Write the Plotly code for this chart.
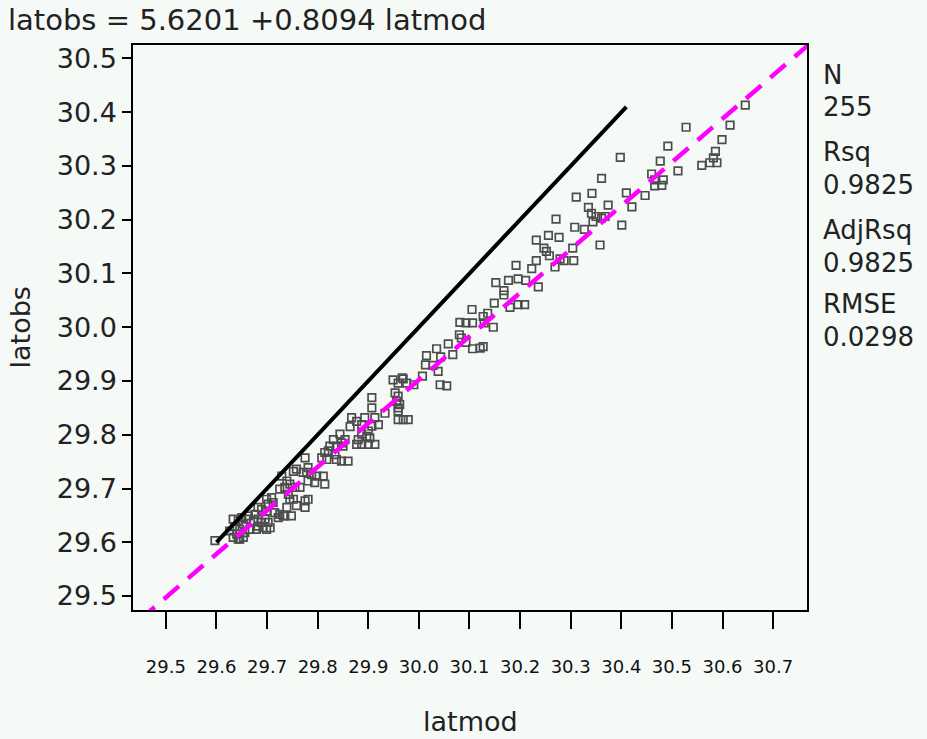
import plotly.graph_objects as go

# ---- data ----
latmod = [
    30.645, 30.615, 30.528, 30.599, 30.492, 30.586, 30.398, 30.477, 30.559, 30.575,
    30.589, 30.582, 30.512, 30.460, 30.466, 30.480, 30.466, 30.483, 30.361, 30.410,
    30.447, 30.374, 30.421, 30.342, 30.311, 30.335, 30.350, 30.361, 30.368, 30.344,
    30.341, 30.401, 30.271, 30.308, 30.327, 30.256, 30.277, 30.232, 30.358, 30.247,
    30.252, 30.258, 30.304, 30.279, 30.287, 30.306, 30.232, 30.269, 30.192, 30.223,
    30.152, 30.177, 30.196, 30.211, 30.236, 30.168, 30.168, 30.149, 30.196, 30.209,
    30.180, 30.105, 30.136, 30.127, 30.081, 30.093, 30.106, 30.129, 30.147, 30.080,
    30.084, 30.093, 30.058, 30.106, 30.121, 30.127, 30.035, 30.015, 30.043, 30.013,
    30.028, 30.067, 30.007, 29.967, 29.949, 30.038, 29.959, 29.969, 29.976, 29.990,
    29.953, 29.959, 29.956, 29.962, 29.959, 29.959, 29.907, 29.907, 29.933, 29.969,
    29.979, 29.959, 29.867, 29.877, 29.893, 29.913, 29.864, 29.887, 29.907, 29.920,
    29.887, 29.897, 29.903, 29.880, 29.887, 29.900, 29.913, 29.844, 29.831, 29.854,
    29.824, 29.837, 29.850, 29.821, 29.834, 29.775, 29.808, 29.900, 29.847, 29.814,
    29.837, 29.847, 29.860, 29.818, 29.781, 29.778, 29.758, 29.771, 29.788, 29.798,
    29.811, 29.814, 29.794, 29.781, 29.752, 29.729, 29.739, 29.745, 29.735, 29.725,
    29.755, 29.765, 29.742, 29.745, 29.752, 29.739, 29.758, 29.775, 29.775, 29.781,
    29.725, 29.735, 29.748, 29.709, 29.699, 29.712, 29.702, 29.597, 29.633, 29.643,
    29.636, 29.653, 29.646, 29.656, 29.653, 29.643, 29.633, 29.640, 29.626, 29.663,
    29.676, 29.673, 29.682, 29.689, 29.682, 29.692, 29.699, 29.706, 29.702, 29.696,
    29.682, 29.689, 29.699, 29.715, 29.722, 29.732, 29.650, 29.659, 29.666, 29.679,
    29.646, 30.042, 30.055, 29.877,
]
latobs = [
    30.413, 30.376, 30.372, 30.349, 30.337, 30.327, 30.316, 30.309, 30.301, 30.306,
    30.306, 30.315, 30.291, 30.285, 30.274, 30.264, 30.263, 30.274, 30.277, 30.250,
    30.245, 30.227, 30.224, 30.249, 30.242, 30.223, 30.206, 30.203, 30.206, 30.196,
    30.212, 30.190, 30.201, 30.186, 30.182, 30.171, 30.167, 30.162, 30.153, 30.147,
    30.141, 30.133, 30.147, 30.127, 30.124, 30.124, 30.124, 30.112, 30.115, 30.109,
    30.083, 30.087, 30.090, 30.087, 30.075, 30.068, 30.060, 30.045, 30.042, 30.042,
    30.037, 30.033, 30.026, 30.020, 30.009, 30.008, 30.008, 30.008, 30.000, 29.986,
    29.980, 29.972, 29.969, 29.960, 29.961, 29.964, 29.960, 29.947, 29.945, 29.930,
    29.929, 29.949, 29.909, 29.906, 29.902, 29.918, 29.896, 29.904, 29.896, 29.893,
    29.878, 29.872, 29.862, 29.856, 29.850, 29.844, 29.869, 29.850, 29.840, 29.828,
    29.828, 29.828, 29.832, 29.825, 29.832, 29.832, 29.815, 29.819, 29.816, 29.819,
    29.801, 29.797, 29.794, 29.791, 29.782, 29.782, 29.782, 29.801, 29.791, 29.791,
    29.779, 29.779, 29.779, 29.770, 29.763, 29.757, 29.757, 29.807, 29.785, 29.767,
    29.754, 29.751, 29.751, 29.754, 29.739, 29.730, 29.736, 29.730, 29.726, 29.723,
    29.723, 29.708, 29.711, 29.714, 29.732, 29.723, 29.714, 29.708, 29.702, 29.699,
    29.702, 29.702, 29.689, 29.680, 29.680, 29.665, 29.668, 29.665, 29.677, 29.680,
    29.652, 29.649, 29.649, 29.683, 29.680, 29.674, 29.671, 29.603, 29.643, 29.640,
    29.629, 29.634, 29.624, 29.618, 29.609, 29.606, 29.609, 29.615, 29.621, 29.649,
    29.652, 29.640, 29.643, 29.637, 29.630, 29.627, 29.624, 29.627, 29.637, 29.643,
    29.665, 29.661, 29.658, 29.655, 29.646, 29.649, 29.646, 29.643, 29.624, 29.624,
    29.606, 29.893, 29.891, 29.782,
]

# reference (identity) line endpoints
identity_x = [29.60, 30.41]
identity_y = [29.60, 30.41]

# regression fit, as printed in the title
intercept = 5.6201
slope = 0.8094
fit_x = [29.40, 30.80]
fit_y = [intercept + slope * v for v in fit_x]

# statistics shown at the right
stat_labels = ["N", "Rsq", "AdjRsq", "RMSE"]
stat_values = ["255", "0.9825", "0.9825", "0.0298"]

x_ticks = [29.5, 29.6, 29.7, 29.8, 29.9, 30.0, 30.1, 30.2, 30.3, 30.4, 30.5, 30.6, 30.7]
y_ticks = [29.5, 29.6, 29.7, 29.8, 29.9, 30.0, 30.1, 30.2, 30.3, 30.4, 30.5]

BG = "#f6faf7"
FONT = "DejaVu Sans"
TXT = "#222222"

fig = go.Figure()
fig.add_trace(go.Scatter(
    x=latmod, y=latobs, mode="markers",
    marker=dict(symbol="square-open", size=7.5, color="#4d4d4d", line=dict(width=1.7, color="#4d4d4d")),
    showlegend=False, hoverinfo="x+y",
))
fig.add_trace(go.Scatter(
    x=identity_x, y=identity_y, mode="lines",
    line=dict(color="black", width=4), showlegend=False,
))
fig.add_trace(go.Scatter(
    x=fit_x, y=fit_y, mode="lines",
    line=dict(color="#ff00ff", width=4.5, dash="20px,12px"), showlegend=False,
))

fig.update_xaxes(
    range=[29.435, 30.767], tickvals=x_ticks, ticktext=[f"{v:.1f}" for v in x_ticks],
    showgrid=False, zeroline=False, showline=True, mirror=True,
    linecolor="black", linewidth=1.5,
    ticks="outside", ticklen=17, tickwidth=1.5, tickcolor="black",
    ticklabelstandoff=23,
    tickfont=dict(family=FONT, size=18, color="#111111"),
)
fig.update_yaxes(
    range=[29.474, 30.525], tickvals=y_ticks, ticktext=[f"{v:.1f}" for v in y_ticks],
    showgrid=False, zeroline=False, showline=True, mirror=True,
    linecolor="black", linewidth=1.5,
    ticks="outside", ticklen=9, tickwidth=1.5, tickcolor="black",
    tickfont=dict(family=FONT, size=27, color=TXT),
)

annotations = [
    dict(text="latobs", xref="paper", yref="paper", x=0, y=0.5, xshift=-113,
         textangle=-90, showarrow=False, xanchor="center", yanchor="middle",
         font=dict(family=FONT, size=27, color=TXT)),
    dict(text="latmod", xref="paper", yref="paper", x=0.5, y=0, yshift=-111,
         showarrow=False, xanchor="center", yanchor="middle",
         font=dict(family=FONT, size=27, color=TXT)),
]
centers = [73, 105, 150, 183, 228, 261, 302, 335]
texts = []
for lab, val in zip(stat_labels, stat_values):
    texts += [lab, val]
for t, cy in zip(texts, centers):
    annotations.append(dict(
        text=t, xref="paper", yref="paper", x=1, y=1, xshift=14, yshift=-(cy - 45) - 2,
        showarrow=False, xanchor="left", yanchor="middle",
        font=dict(family=FONT, size=26, color=TXT)))

fig.update_layout(
    width=927, height=739,
    margin=dict(l=133, r=120, t=45, b=129, pad=0),
    paper_bgcolor=BG, plot_bgcolor=BG,
    title=dict(text=f"latobs = {intercept:.4f} +{slope:.4f} latmod", xref="container", yref="container",
               x=8 / 927, y=1 - 20 / 739, xanchor="left", yanchor="middle",
               font=dict(family=FONT, size=29, color=TXT)),
    annotations=annotations,
)

fig.write_html(
    "out.html",
    config={"displayModeBar": False},
    post_script="document.body.style.margin='0';document.body.style.padding='0';"
                "document.body.style.background='#f6faf7';document.body.style.overflow='hidden';",
)
